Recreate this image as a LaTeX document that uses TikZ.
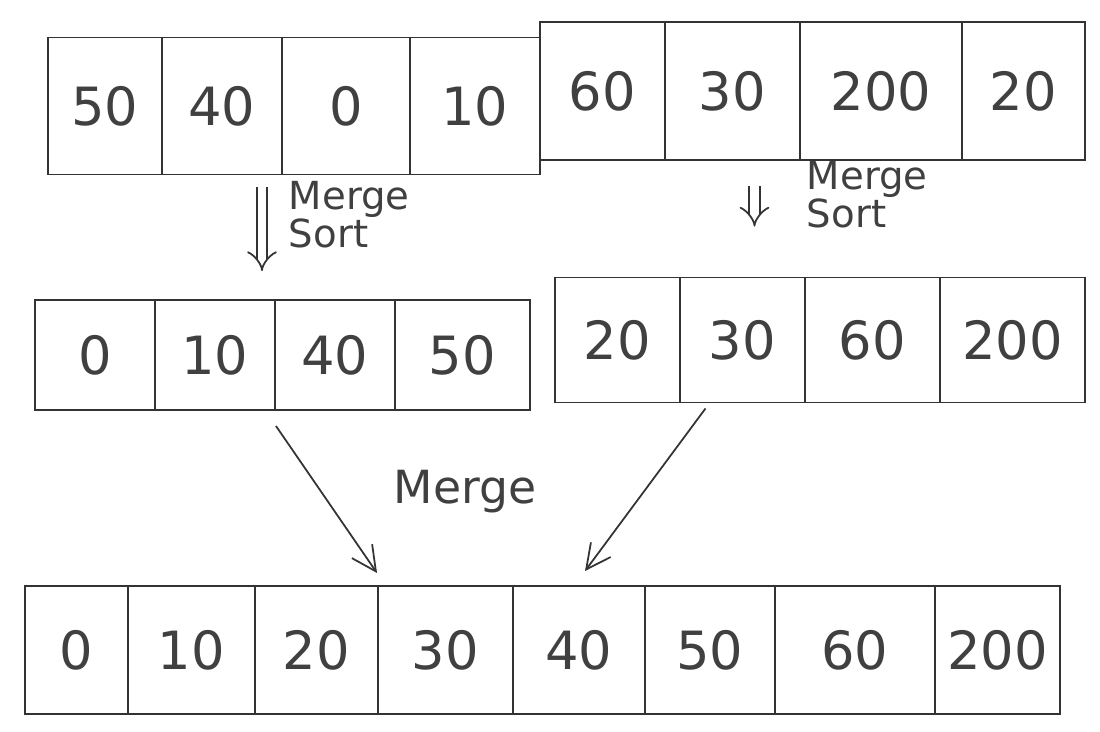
\documentclass[tikz,border=0pt]{standalone}
\usepackage{fontspec}
\setmainfont{DejaVu Sans}
\usetikzlibrary{arrows.meta,calc}
\begin{document}
\begin{tikzpicture}[x=0.02cm,y=-0.02cm,
  line width=1.1pt, draw=black!80,
  cell/.style={draw=black!80, line width=1.1pt, minimum height=#1*0.02cm, inner sep=0pt, font=\fontsize{30}{34}\selectfont\color{black!75}},
  lbl/.style={font=\fontsize{22}{22}\selectfont\color{black!75}, align=left, inner sep=0pt},
  dbl/.style={double=white, double distance=5pt, line width=1pt, -{Implies[length=8pt,width=14pt]}},
  sgl/.style={line width=1pt, -{Straight Barb[length=14pt,width=14pt]}}]
\useasboundingbox (0,0) rectangle (1100,732);
% top row
\foreach \n/\a/\b/\v in {1/48/162/50,2/162/282/40,3/282/410/0,4/410/540/10}
  \node[cell=137, minimum width=(\b-\a)*0.02cm] (t\n) at ({(\a+\b)/2},106) {\v};
\foreach \n/\a/\b/\v in {5/540/665/60,6/665/800/30,7/800/962/200,8/962/1085/20}
  \node[cell=138, minimum width=(\b-\a)*0.02cm] (t\n) at ({(\a+\b)/2},91) {\v};
% middle rows
\foreach \n/\a/\b/\v in {1/35/155/0,2/155/275/10,3/275/395/40,4/395/530/50}
  \node[cell=110, minimum width=(\b-\a)*0.02cm] (m\n) at ({(\a+\b)/2},355) {\v};
\foreach \n/\a/\b/\v in {5/555/680/20,6/680/805/30,7/805/940/60,8/940/1085/200}
  \node[cell=125, minimum width=(\b-\a)*0.02cm] (m\n) at ({(\a+\b)/2},340) {\v};
% bottom row
\foreach \n/\a/\b/\v in {1/25/128/0,2/128/255/10,3/255/378/20,4/378/513/30,5/513/645/40,6/645/775/50,7/775/935/60,8/935/1060/200}
  \node[cell=128, minimum width=(\b-\a)*0.02cm] (b\n) at ({(\a+\b)/2},650) {\v};
% double arrows
\coordinate (d1s) at ($(t2.south)+(40,12)$);
\coordinate (d1e) at ($(m2.north)+(47,-28)$);
\draw[dbl] (d1s) -- (d1e);
\node[lbl, anchor=north west] (l1) at (288,180) {Merge\\Sort};
\coordinate (d2s) at ($(t6.south)+(22,25)$);
\coordinate (d2e) at ($(m6.north)+(12,-50)$);
\draw[dbl] (d2s) -- (d2e);
\node[lbl, anchor=north west] (l2) at (806,160) {Merge\\Sort};
% merge arrows
\coordinate (a1s) at ($(m2.south east)+(0,15)$);
\coordinate (a1e) at ($(b4.north west)+(0,-12)$);
\draw[sgl] (a1s) -- (a1e);
\coordinate (a2s) at ($(m6.south)+(-37,5)$);
\coordinate (a2e) at ($(b5.north)+(6,-14)$);
\draw[sgl] (a2s) -- (a2e);
\node[lbl, font=\fontsize{26}{26}\selectfont\color{black!75}] (l3) at (465,492) {Merge};
\end{tikzpicture}
\end{document}
